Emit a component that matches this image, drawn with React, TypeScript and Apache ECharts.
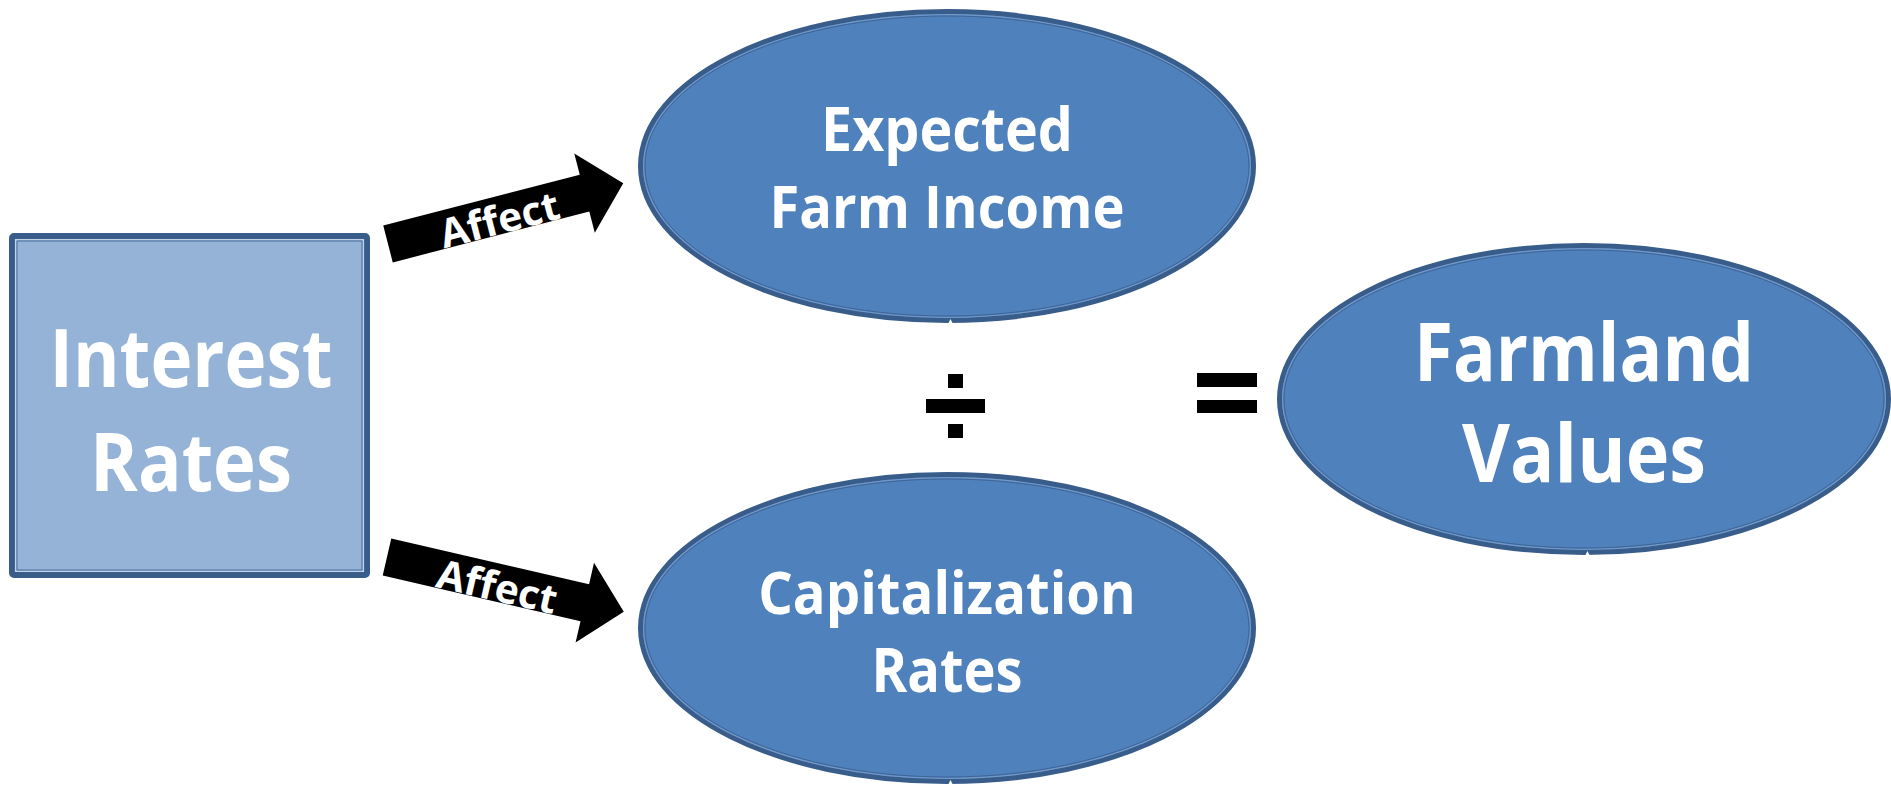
import React, { useEffect, useRef } from 'react';
import * as echarts from 'echarts';

// ---- content ----
const sourceLines = ['Interest', 'Rates'];
const incomeLines = ['Expected', 'Farm Income'];
const capRateLines = ['Capitalization', 'Rates'];
const valueLines = ['Farmland', 'Values'];
const arrowLabels = ['Affect', 'Affect'];

// ---- layout (pixels) ----
const W = 1891;
const H = 786;
const FONT = '"Open Sans", "Noto Sans", "DejaVu Sans", sans-serif';
const DARK = '#395d8b';
const FILL = '#4f81bd';
const SQUARE_FILL = '#95b3d7';

const square = { x: 9, y: 233, w: 361, h: 345 };
const squareText = { cx: 191, ys: [356, 460], widths: [283, 202], size: 80 };

const ellipses = [
  { cx: 947, cy: 166, rx: 309, ry: 157, lines: incomeLines, ys: [128, 205], widths: [252, 355], size: 60 },
  { cx: 947, cy: 628, rx: 309, ry: 156, lines: capRateLines, ys: [591, 669], widths: [378, 151], size: 60 },
  { cx: 1584, cy: 399, rx: 307, ry: 156, lines: valueLines, ys: [350, 451], widths: [340, 244], size: 80 },
];

const arrows = [
  { tx: 388, ty: 244, angle: -14.5, len: 243, label: arrowLabels[0] },
  { tx: 387, ty: 557, angle: 13, len: 243, label: arrowLabels[1] },
];
const SHAFT_HW = 19;
const HEAD_HW = 41;
const HEAD_LEN = 40;

let measureCtx: CanvasRenderingContext2D | null = null;
function textWidth(text: string, size: number): number {
  if (!measureCtx) measureCtx = document.createElement('canvas').getContext('2d');
  if (!measureCtx) return text.length * size * 0.55;
  measureCtx.font = `bold ${size}px ${FONT}`;
  return measureCtx.measureText(text).width;
}

function label(text: string, cx: number, cy: number, size: number, targetW: number, rotDeg = 0) {
  const s = targetW / textWidth(text, size);
  return {
    type: 'text',
    x: cx,
    y: cy,
    scaleX: s,
    rotation: (rotDeg * Math.PI) / 180,
    z: 10,
    style: {
      text,
      fill: '#ffffff',
      fontSize: size,
      fontWeight: 'bold',
      fontFamily: FONT,
      align: 'center',
      verticalAlign: 'middle',
      textAlign: 'center',
      textVerticalAlign: 'middle',
    },
  };
}

function ellipseNode(e: any) {
  const bottom = e.cy + e.ry;
  const els: any[] = [
    { type: 'ellipse', z: 2, shape: { cx: e.cx, cy: e.cy, rx: e.rx - 2.5, ry: e.ry - 2.5 }, style: { fill: FILL, stroke: DARK, lineWidth: 5 } },
    { type: 'ellipse', z: 3, shape: { cx: e.cx, cy: e.cy, rx: e.rx - 5.6, ry: e.ry - 5.6 }, style: { fill: 'none', stroke: '#7298c8', lineWidth: 1.2 } },
    { type: 'ellipse', z: 3, shape: { cx: e.cx, cy: e.cy, rx: e.rx - 7, ry: e.ry - 7 }, style: { fill: 'none', stroke: '#3f6596', lineWidth: 1 } },
    // small seam notch at the bottom of the outline
    { type: 'polygon', z: 4, shape: { points: [[e.cx + 1, bottom + 1], [e.cx + 6, bottom + 1], [e.cx + 3.5, bottom - 4]] }, style: { fill: '#ffffff' } },
  ];
  e.lines.forEach((t: string, i: number) => els.push(label(t, e.cx, e.ys[i], e.size, e.widths[i])));
  return els;
}

function arrowEls(a: any) {
  const r = (a.angle * Math.PI) / 180;
  const ux = Math.cos(r), uy = Math.sin(r);
  const nx = -uy, ny = ux;
  const P = (d: number, o: number) => [a.tx + ux * d + nx * o, a.ty + uy * d + ny * o];
  const b = a.len - HEAD_LEN;
  const pts = [P(0, -SHAFT_HW), P(b, -SHAFT_HW), P(b, -HEAD_HW), P(a.len, 0), P(b, HEAD_HW), P(b, SHAFT_HW), P(0, SHAFT_HW)];
  const c = P(114, 3);
  return [
    { type: 'polygon', z: 4, shape: { points: pts }, style: { fill: '#000000' } },
    label(a.label, c[0], c[1], 40, 122, -a.angle),
  ];
}

function buildElements() {
  const els: any[] = [];
  els.push({ type: 'rect', z: 0, shape: { x: 0, y: 0, width: W, height: H }, style: { fill: '#ffffff' } });
  // square
  els.push({ type: 'rect', z: 2, shape: { x: square.x + 3, y: square.y + 3, width: square.w - 6, height: square.h - 6, r: 2 }, style: { fill: SQUARE_FILL, stroke: DARK, lineWidth: 6 } });
  els.push({ type: 'rect', z: 3, shape: { x: square.x + 6.5, y: square.y + 6.5, width: square.w - 13, height: square.h - 13 }, style: { fill: 'none', stroke: '#c3d4ea', lineWidth: 1.2 } });
  els.push({ type: 'rect', z: 3, shape: { x: square.x + 8, y: square.y + 8, width: square.w - 16, height: square.h - 16 }, style: { fill: 'none', stroke: '#4a6e9b', lineWidth: 1 } });
  sourceLines.forEach((t, i) => els.push(label(t, squareText.cx, squareText.ys[i], squareText.size, squareText.widths[i])));
  ellipses.forEach((e) => els.push(...ellipseNode(e)));
  arrows.forEach((a) => els.push(...arrowEls(a)));
  // division sign
  els.push({ type: 'rect', z: 5, shape: { x: 948, y: 374, width: 15, height: 14 }, style: { fill: '#000' } });
  els.push({ type: 'rect', z: 5, shape: { x: 926, y: 399, width: 59, height: 14 }, style: { fill: '#000' } });
  els.push({ type: 'rect', z: 5, shape: { x: 948, y: 424, width: 15, height: 14 }, style: { fill: '#000' } });
  // equals sign
  els.push({ type: 'rect', z: 5, shape: { x: 1197, y: 373, width: 60, height: 14 }, style: { fill: '#000' } });
  els.push({ type: 'rect', z: 5, shape: { x: 1197, y: 400, width: 60, height: 13 }, style: { fill: '#000' } });
  return els;
}

export default function App() {
  const ref = useRef<HTMLDivElement>(null);
  useEffect(() => {
    if (!ref.current) return;
    const chart = echarts.init(ref.current, null, { renderer: 'svg' });
    chart.setOption({ animation: false, graphic: { elements: buildElements() } });
    return () => chart.dispose();
  }, []);
  return (
    <div
      ref={ref}
      style={{ position: 'fixed', left: 0, top: 0, width: W, height: H, background: '#ffffff' }}
    />
  );
}
